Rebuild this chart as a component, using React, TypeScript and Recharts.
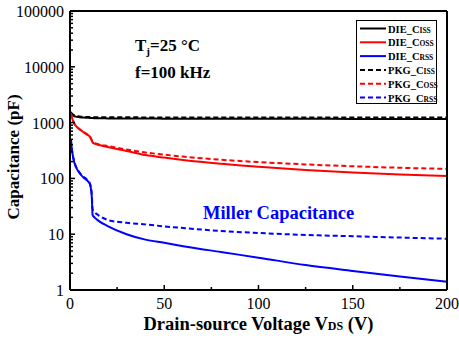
import { LineChart, Line, XAxis, YAxis } from "recharts";

const FONT = '"Liberation Serif", "Times New Roman", serif';

// Drain-source voltage (V)
const vds = [0.5, 1, 2, 3, 5, 7, 9, 10.5, 11.5, 12, 13, 15, 20, 30, 40, 50, 60, 80, 100, 125, 150, 175, 200];

// capacitances in pF
const dieCiss = [1500, 1400, 1320, 1280, 1250, 1230, 1220, 1215, 1210, 1205, 1200, 1195, 1190, 1185, 1180, 1178, 1175, 1172, 1170, 1168, 1165, 1163, 1160];
const dieCoss = [1470, 1250, 1000, 880, 760, 680, 610, 560, 480, 440, 420, 400, 365, 310, 262, 236, 214, 183, 162, 142, 128, 118, 110];
const dieCrss = [480, 330, 210, 165, 125, 105, 92, 80, 50, 22, 20, 17.5, 14, 10, 8.0, 7.0, 6.1, 4.8, 3.8, 2.8, 2.2, 1.75, 1.4];
const pkgCiss = [1550, 1450, 1370, 1320, 1290, 1270, 1260, 1255, 1250, 1250, 1248, 1246, 1244, 1242, 1240, 1238, 1237, 1236, 1235, 1234, 1233, 1232, 1230];
const pkgCoss = [1480, 1260, 1010, 890, 770, 690, 620, 570, 490, 450, 430, 410, 380, 330, 292, 266, 246, 216, 196, 178, 165, 155, 148];
const pkgCrss = [490, 335, 215, 168, 128, 108, 95, 82, 55, 28, 25, 22, 18, 16, 15, 13.8, 12.9, 11.4, 10.5, 9.7, 9.2, 8.7, 8.3];

const xTicks = [0, 25, 50, 75, 100, 125, 150, 175, 200];
const xMajor = [0, 50, 100, 150, 200];
const yMajor = [1, 10, 100, 1000, 10000, 100000];
const yTicks = yMajor.flatMap((d) => (d === 100000 ? [d] : [1, 2, 3, 4, 5, 6, 7, 8, 9].map((m) => m * d)));

const data = vds.map((v, i) => ({
  v,
  dieCiss: dieCiss[i],
  dieCoss: dieCoss[i],
  dieCrss: dieCrss[i],
  pkgCiss: pkgCiss[i],
  pkgCoss: pkgCoss[i],
  pkgCrss: pkgCrss[i],
}));

const series = [
  { key: "dieCiss", name: "DIE_C", sub: "iss", color: "#000000", dash: undefined },
  { key: "dieCoss", name: "DIE_C", sub: "oss", color: "#ff0000", dash: undefined },
  { key: "dieCrss", name: "DIE_C", sub: "rss", color: "#0000ff", dash: undefined },
  { key: "pkgCiss", name: "PKG_C", sub: "iss", color: "#000000", dash: "5 3" },
  { key: "pkgCoss", name: "PKG_C", sub: "oss", color: "#ff0000", dash: "5 3" },
  { key: "pkgCrss", name: "PKG_C", sub: "rss", color: "#0000ff", dash: "5 3" },
];

const XTick = ({ x, y, payload }: any) => {
  const major = xMajor.includes(payload.value);
  return (
    <g>
      <line x1={x} x2={x} y1={y} y2={y - (major ? 5 : 3)} stroke="#000" strokeWidth={1.5} />
      {major && (
        <text x={x} y={y + 19} textAnchor="middle" fontFamily={FONT} fontSize={16} fill="#000">
          {payload.value}
        </text>
      )}
    </g>
  );
};

const YTick = ({ x, y, payload }: any) => {
  const major = yMajor.includes(payload.value);
  return (
    <g>
      <line x1={x} x2={x + (major ? 5 : 3)} y1={y} y2={y} stroke="#000" strokeWidth={1.5} />
      {major && (
        <text x={x - 6} y={y + 6} textAnchor="end" fontFamily={FONT} fontSize={16} fill="#000">
          {payload.value}
        </text>
      )}
    </g>
  );
};

const LegendBox = () => (
  <svg width={82} height={85} style={{ display: "block" }}>
    <rect x={0.5} y={0.5} width={80} height={83} fill="#fff" stroke="#000" strokeWidth={1} />
    {series.map((s, i) => {
      const cy = 8.5 + i * 13.8;
      return (
        <g key={s.key}>
          <line x1={4} x2={30} y1={cy} y2={cy} stroke={s.color} strokeWidth={2} strokeDasharray={s.dash} />
          <text x={32} y={cy + 4} fontFamily={FONT} fontSize={10.5} fontWeight="bold" fill="#000">
            {s.name}
            <tspan fontSize={7.5}>{s.sub.toUpperCase()}</tspan>
          </text>
        </g>
      );
    })}
  </svg>
);

export default function App() {
  return (
    <div style={{ position: "absolute", left: 0, top: 0, width: 459, height: 341, background: "#fff" }}>
      <LineChart width={459} height={341} data={data} margin={{ top: 10, right: 11, left: 69, bottom: 50 }}>
        <XAxis
          dataKey="v"
          type="number"
          domain={[0, 200]}
          ticks={xTicks}
          interval={0}
          height={1}
          tickSize={0}
          tickMargin={0}
          tickLine={false}
          axisLine={{ stroke: "#000", strokeWidth: 2 }}
          tick={<XTick />}
        />
        <XAxis
          xAxisId="top"
          orientation="top"
          dataKey="v"
          type="number"
          domain={[0, 200]}
          ticks={[0, 200]}
          height={1}
          tick={false}
          tickLine={false}
          axisLine={{ stroke: "#000", strokeWidth: 2 }}
        />
        <YAxis
          scale="log"
          domain={[1, 100000]}
          allowDataOverflow
          ticks={yTicks}
          interval={0}
          width={1}
          tickSize={0}
          tickMargin={0}
          tickLine={false}
          axisLine={{ stroke: "#000", strokeWidth: 2 }}
          tick={<YTick />}
        />
        <YAxis
          yAxisId="right"
          orientation="right"
          scale="log"
          domain={[1, 100000]}
          ticks={[1, 100000]}
          width={1}
          tick={false}
          tickLine={false}
          axisLine={{ stroke: "#000", strokeWidth: 2 }}
        />
        {series.map((s) => (
          <Line
            key={s.key}
            dataKey={s.key}
            type="monotone"
            stroke={s.color}
            strokeWidth={2}
            strokeDasharray={s.dash}
            dot={false}
            isAnimationActive={false}
          />
        ))}
      </LineChart>
      <div style={{ position: "absolute", left: 356, top: 20 }}>
        <LegendBox />
      </div>
      <div style={{ position: "absolute", left: 135, top: 36, fontFamily: FONT, fontWeight: "bold", fontSize: 17, lineHeight: "20px", whiteSpace: "nowrap" }}>
        T<span style={{ fontSize: 11, position: "relative", top: 4 }}>j</span>=25 °C
      </div>
      <div style={{ position: "absolute", left: 135, top: 63, fontFamily: FONT, fontWeight: "bold", fontSize: 17, lineHeight: "20px", whiteSpace: "nowrap" }}>
        f=100 kHz
      </div>
      <div style={{ position: "absolute", left: 203, top: 203, fontFamily: FONT, fontWeight: "bold", fontSize: 18.5, color: "#0000ff", whiteSpace: "nowrap" }}>
        Miller Capacitance
      </div>
      <div style={{ position: "absolute", left: 0, width: 459, top: 314, textAlign: "center", paddingLeft: 58, boxSizing: "border-box", fontFamily: FONT, fontWeight: "bold", fontSize: 18.5, whiteSpace: "nowrap" }}>
        Drain-source Voltage V<span style={{ fontSize: 12 }}>DS</span> (V)
      </div>
      <div
        style={{
          position: "absolute",
          left: 14,
          top: 157,
          transform: "translate(-50%, -50%) rotate(-90deg)",
          fontFamily: FONT,
          fontWeight: "bold",
          fontSize: 17,
          whiteSpace: "nowrap",
        }}
      >
        Capacitance (pF)
      </div>
    </div>
  );
}
